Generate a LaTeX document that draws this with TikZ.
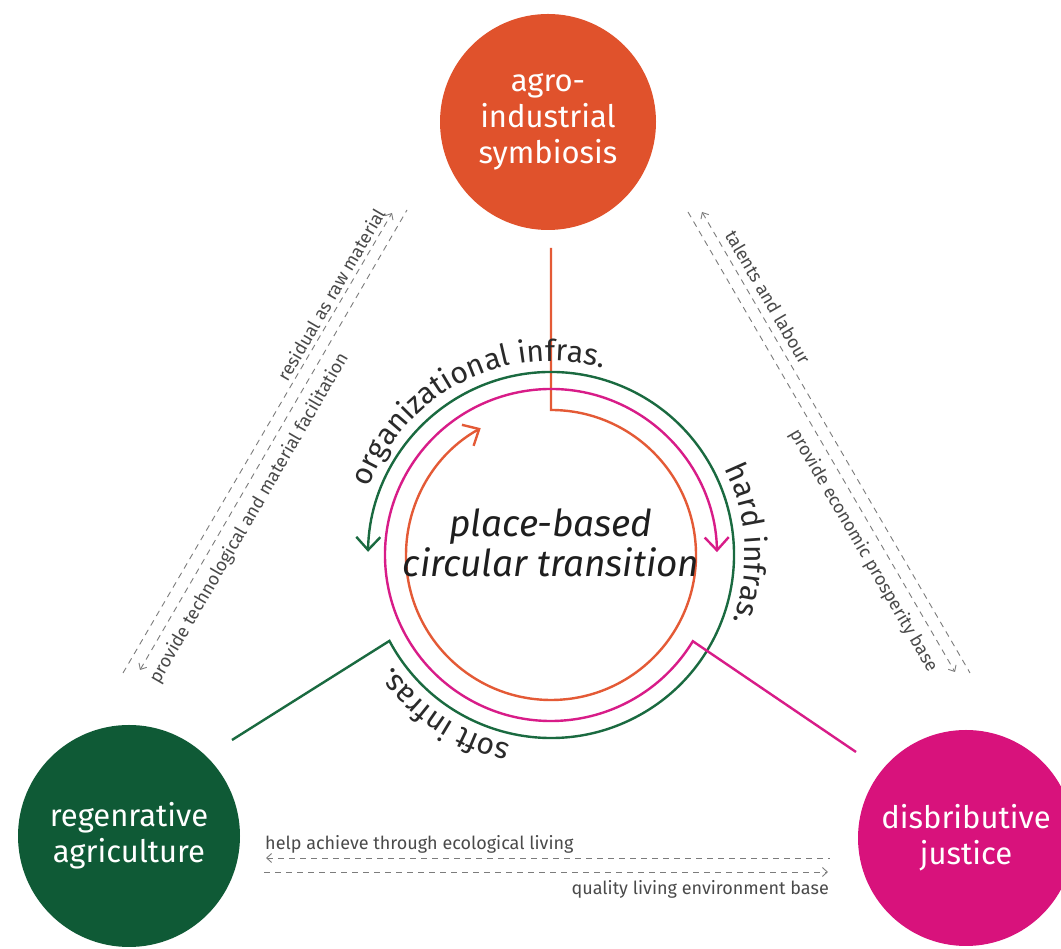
\documentclass[tikz,border=0pt]{standalone}
\usepackage{fontspec}
\setmainfont{Fira Sans}
\usetikzlibrary{arrows.meta, decorations.text}
\definecolor{cOrange}{HTML}{E0522C}
\definecolor{cGreen}{HTML}{0F5A36}
\definecolor{cPink}{HTML}{D8127C}
\definecolor{lOrange}{HTML}{E45A36}
\definecolor{lGreen}{HTML}{1A6A40}
\definecolor{lPink}{HTML}{D81C88}
\definecolor{dashgray}{HTML}{7C7C7C}
\definecolor{labgray}{HTML}{4A4A4A}
\definecolor{ringtext}{HTML}{2A2A2A}
\definecolor{ctext}{HTML}{1E1E1E}
\newcommand\ringfont{\fontsize{30}{30}\selectfont}
\begin{document}
\begin{tikzpicture}[x=1pt, y=1pt,
  hub/.style={circle, minimum size=#1, inner sep=0pt, text=white, align=center, font=\fontsize{31}{36}\selectfont},
  ring/.style={line width=2.4pt},
  ringtip/.style={-{Straight Barb[length=13pt, width=24pt]}},
  flow/.style={dashgray, line width=0.9pt, dash pattern=on 6pt off 5pt},
  fwd/.style={-{Straight Barb[length=5pt, width=9pt]}},
  bwd/.style={{Straight Barb[length=5pt, width=9pt]}-},
  flowlab/.style={labgray, font=\fontsize{18}{18}\selectfont, inner sep=3pt},
  ringlab/.style={decorate, decoration={text along path, text align=center, text color=ringtext, text={|\ringfont|#1}}},
  centxt/.style={font=\fontsize{37}{42}\selectfont\itshape, anchor=base, text=ctext, inner sep=0pt},
  ]
\useasboundingbox (0,0) rectangle (1061,949);
\fill[white] (0,0) rectangle (1061,949);
% hubs
\node[hub=216pt, fill=cOrange] (agro) at (548,827) {agro-\\industrial\\symbiosis};
\node[hub=222pt, fill=cGreen] (regen) at (129,113) {regenrative\\agriculture};
\node[hub=216pt, fill=cPink] (just) at (966,111) {disbributive\\justice};
\coordinate (ring) at (551,394);
% rings with connectors
\coordinate (oS) at (551,701);
\coordinate (oT) at ([shift={(90:145)}]ring);
\draw[ring, lOrange, ringtip] (oS) -- (oT) arc[start angle=90, end angle=-241, radius=145];
\coordinate (gS) at (232,209);
\coordinate (gC) at ([shift={(208:183)}]ring);
\draw[ring, lGreen, ringtip] (gS) -- (gC) arc[start angle=208, end angle=539, radius=183];
\coordinate (mS) at (856,197);
\coordinate (mC) at ([shift={(-31.3:166)}]ring);
\draw[ring, lPink, ringtip] (mS) -- (mC) arc[start angle=-31.3, end angle=-359, radius=166];
% ring labels
\path[ringlab={organizational infras.}] ([shift={(177:194)}]ring) arc[start angle=177, end angle=57, radius=194];
\path[ringlab={hard infras.}] ([shift={(40:194)}]ring) arc[start angle=40, end angle=-33.4, radius=194];
\path[ringlab={soft infras.}] ([shift={(-90:194)}]ring) arc[start angle=-90, end angle=-157, radius=194];
% centre text
\node[centxt] (ct1) at (551,412) {place-based};
\node[centxt] (ct2) at (551,372) {circular transition};
% left pair
\coordinate (a1) at (123,276); \coordinate (a2) at (392,736);
\draw[flow, fwd] (a1) -- node[flowlab, sloped, above=1pt, pos=0.81] {residual as raw material} (a2);
\coordinate (b1) at (140,279); \coordinate (b2) at (407,739);
\draw[flow, bwd] (b1) -- node[flowlab, sloped, below=6pt, pos=0.35] {provide technological and material facilitation} (b2);
% right pair
\coordinate (c1) at (702,737); \coordinate (c2) at (970,276);
\draw[flow, bwd] (c1) -- node[flowlab, sloped, above=4pt, pos=0.2] {talents and labour} (c2);
\coordinate (d1) at (688,737); \coordinate (d2) at (955,277);
\draw[flow, fwd] (d1) -- node[flowlab, sloped, below=6pt, pos=0.716] {provide economic prosperity base} (d2);
% bottom pair
\coordinate (e1) at (266,91); \coordinate (e2) at (830,91);
\draw[flow, bwd] (e1) -- (e2);
\coordinate (f1) at (264,77); \coordinate (f2) at (828,77);
\draw[flow, fwd] (f1) -- (f2);
\node[flowlab, inner sep=0pt, anchor=base west] (el) at (265,99) {help achieve through ecological living};
\node[flowlab, inner sep=0pt, anchor=base east] (fl) at (829,54) {quality living environment base};
\end{tikzpicture}
\end{document}
